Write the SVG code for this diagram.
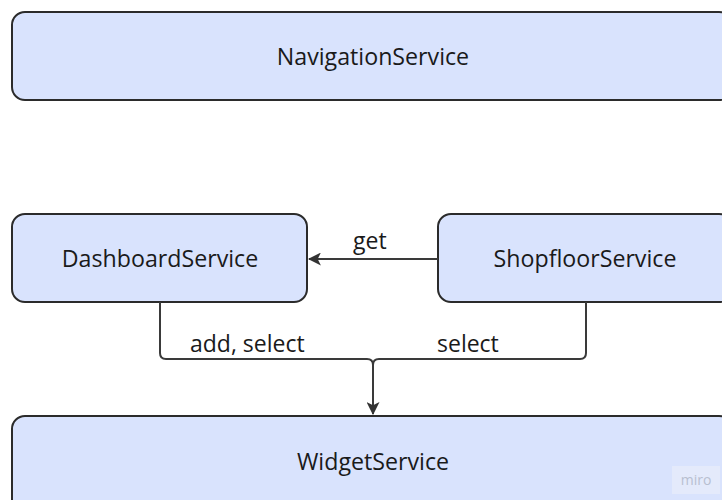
<svg xmlns="http://www.w3.org/2000/svg" width="722" height="500" viewBox="0 0 722 500">
<style>
.node rect{fill:#d9e3fd;stroke:#2b2b2b;stroke-width:2}
.node text{font-family:"Open Sans",sans-serif;font-size:23.2px;fill:#1a1a1a;text-anchor:middle}
.edge{fill:none;stroke:#3a3a3a;stroke-width:2}
.lbl{font-family:"Open Sans",sans-serif;font-size:23px;fill:#1a1a1a}
</style>
<defs>
<marker id="arr" viewBox="0 0 12 12" refX="11" refY="6" markerWidth="13" markerHeight="13" markerUnits="userSpaceOnUse" orient="auto">
<path d="M0,0 L12,6 L0,12 L3,6 Z" fill="#333333"/>
</marker>
</defs>
<rect width="722" height="500" fill="#ffffff"/>
<g id="NavigationService" class="node">
<rect x="12" y="12" width="720" height="88" rx="13"/>
<text x="373" y="65">NavigationService</text>
</g>
<g id="DashboardService" class="node">
<rect x="12" y="214" width="295" height="88" rx="13"/>
<text x="160" y="267">DashboardService</text>
</g>
<g id="ShopfloorService" class="node">
<rect x="438" y="214" width="294" height="88" rx="13"/>
<text x="585" y="267">ShopfloorService</text>
</g>
<g id="WidgetService" class="node">
<rect x="12" y="416" width="720" height="100" rx="13"/>
<text x="373" y="470">WidgetService</text>
</g>
<g id="connectors">
<path class="edge" d="M438,259 H309" marker-end="url(#arr)"/>
<text class="lbl" x="353" y="249">get</text>
<path class="edge" d="M160,302 V353 Q160,359 166,359 H367 Q373,359 373,365 V414" marker-end="url(#arr)"/>
<path class="edge" d="M586,302 V353 Q586,359 580,359 H379 Q373,359 373,365"/>
<text class="lbl" x="190" y="352">add, select</text>
<text class="lbl" x="437" y="352">select</text>
</g>
<rect x="672" y="466" width="48" height="28" fill="#e4eafb"/>
<text x="696" y="485" font-family="'Open Sans',sans-serif" font-size="14" fill="#b8bfd0" text-anchor="middle">miro</text>
</svg>
